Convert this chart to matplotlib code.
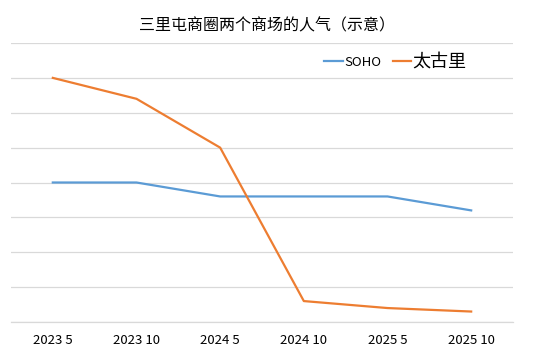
import matplotlib
matplotlib.use("Agg")
import matplotlib.pyplot as plt

plt.rcParams['font.family'] = ['Noto Sans CJK SC', 'DejaVu Sans']

categories = ["2023 5", "2023 10", "2024 5", "2024 10", "2025 5", "2025 10"]
soho = [4.0, 4.0, 3.6, 3.6, 3.6, 3.2]
taikooli = [7.0, 6.4, 5.0, 0.6, 0.4, 0.3]

fig = plt.figure(figsize=(5.33, 3.54), dpi=100)
ax = fig.add_axes([0.0206, 0.0904, 0.9419, 0.7881])

x = list(range(len(categories)))
ax.plot(x, soho, color="#5B9BD5", lw=1.6, label="SOHO", solid_joinstyle="round")
ax.plot(x, taikooli, color="#ED7D31", lw=1.6, label="太古里", solid_joinstyle="round")

ax.set_xlim(-0.5, 5.5)
ax.set_ylim(0, 8)
ax.set_yticks(range(0, 9))
ax.yaxis.grid(True, color="#D9D9D9", lw=0.9)
ax.set_axisbelow(True)
ax.set_yticklabels([])
ax.tick_params(axis="y", length=0)
ax.tick_params(axis="x", length=0, pad=9, labelsize=9.5, colors="#000000")
ax.set_xticks(x)
ax.set_xticklabels(categories)
for s in ["top", "left", "right"]:
    ax.spines[s].set_visible(False)
ax.spines["bottom"].set_color("#D9D9D9")
ax.spines["bottom"].set_linewidth(0.9)

fig.text(0.5, 0.928, "三里屯商圈两个商场的人气（示意）", ha="center", va="center",
         fontsize=11.5, color="#000000")

leg = ax.legend(loc="upper left", bbox_to_anchor=(0.6, 1.01), ncol=2, frameon=False,
                handlelength=1.4, handletextpad=0.1, columnspacing=0.9, fontsize=9.5)
for t in leg.get_texts():
    if t.get_text() == "太古里":
        t.set_fontsize(13)

fig.savefig("out.png", dpi=100, facecolor="white")
